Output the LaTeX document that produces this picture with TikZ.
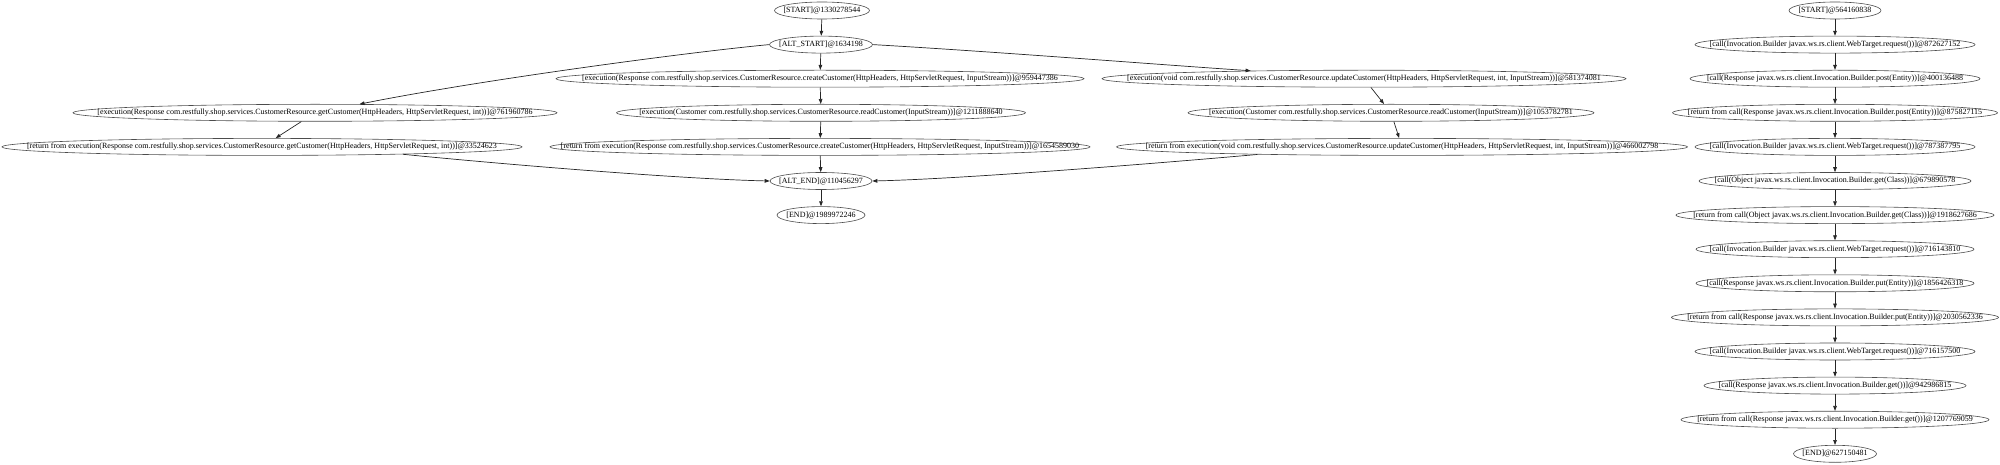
\documentclass[tikz,border=0pt]{standalone}
\usepackage{fontspec}
\setmainfont{Liberation Serif}
\usetikzlibrary{arrows.meta,shapes.geometric}
\tikzset{
  nd/.style={ellipse, draw=black!70, line width=0.6pt, inner xsep=-400pt, inner ysep=-20pt,
    minimum height=17pt, font=\fontsize{8}{9.6}\selectfont, text=black},
  edge/.style={draw=black!85, line width=0.7pt, -{Triangle[length=5pt,width=3.6pt]}}
}
\begin{document}
\begin{tikzpicture}[x=1pt,y=-1pt]
\useasboundingbox (0,0) rectangle (2000,465);
% left graph
\node[nd, minimum width=95] (s1) at (822,10.5) {[START]@1330278544};
\node[nd, minimum width=103] (alt) at (821,44.6) {[ALT\_START]@1634198};
\node[nd, minimum width=528] (cc) at (820,78.7) {[execution(Response com.restfully.shop.services.CustomerResource.createCustomer(HttpHeaders, HttpServletRequest, InputStream))]@959447386};
\node[nd, minimum width=524] (uc) at (1364,78.7) {[execution(void com.restfully.shop.services.CustomerResource.updateCustomer(HttpHeaders, HttpServletRequest, int, InputStream))]@581374081};
\node[nd, minimum width=484] (gc) at (315,112.8) {[execution(Response com.restfully.shop.services.CustomerResource.getCustomer(HttpHeaders, HttpServletRequest, int))]@761960786};
\node[nd, minimum width=409] (rc1) at (821,112.8) {[execution(Customer com.restfully.shop.services.CustomerResource.readCustomer(InputStream))]@1211888640};
\node[nd, minimum width=406] (rc2) at (1391,112.8) {[execution(Customer com.restfully.shop.services.CustomerResource.readCustomer(InputStream))]@1053782781};
\node[nd, minimum width=520] (rgc) at (262,146.9) {[return from execution(Response com.restfully.shop.services.CustomerResource.getCustomer(HttpHeaders, HttpServletRequest, int))]@33524623};
\node[nd, minimum width=540] (rcc) at (820,146.9) {[return from execution(Response com.restfully.shop.services.CustomerResource.createCustomer(HttpHeaders, HttpServletRequest, InputStream))]@1654589030};
\node[nd, minimum width=571] (ruc) at (1402,146.9) {[return from execution(void com.restfully.shop.services.CustomerResource.updateCustomer(HttpHeaders, HttpServletRequest, int, InputStream))]@466002798};
\node[nd, minimum width=102] (ae) at (821,181) {[ALT\_END]@110456297};
\node[nd, minimum width=88] (e1) at (821,215.1) {[END]@1989972246};
\path[edge] (s1) -- (alt);
\path[edge] (alt.west) .. controls (690,52) and (480,80) .. (gc.11);
\path[edge] (alt) -- (cc);
\path[edge] (alt.east) .. controls (1000,52) and (1150,64) .. (uc.176.2);
\path[edge] (gc) -- (rgc);
\path[edge] (cc) -- (rc1);
\path[edge] (rc1) -- (rcc);
\path[edge] (uc) -- (rc2);
\path[edge] (rc2) -- (ruc);
\path[edge] (rgc.-3.5) .. controls (500,164) and (680,179) .. (ae.west);
\path[edge] (rcc) -- (ae);
\path[edge] (ruc.183.3) .. controls (1150,164) and (960,179) .. (ae.east);
\path[edge] (ae) -- (e1);
% right graph
\node[nd, minimum width=92] (s2) at (1835,10.5) {[START]@564160838};
\node[nd, minimum width=280] (r1) at (1835,44.6) {[call(Invocation.Builder javax.ws.rs.client.WebTarget.request())]@872627152};
\node[nd, minimum width=290] (r2) at (1835,78.7) {[call(Response javax.ws.rs.client.Invocation.Builder.post(Entity))]@400136488};
\node[nd, minimum width=325] (r3) at (1835,112.8) {[return from call(Response javax.ws.rs.client.Invocation.Builder.post(Entity))]@875827115};
\node[nd, minimum width=280] (r4) at (1835,146.9) {[call(Invocation.Builder javax.ws.rs.client.WebTarget.request())]@787387795};
\node[nd, minimum width=272] (r5) at (1835,181) {[call(Object javax.ws.rs.client.Invocation.Builder.get(Class))]@679890578};
\node[nd, minimum width=318] (r6) at (1835,215.1) {[return from call(Object javax.ws.rs.client.Invocation.Builder.get(Class))]@1918627686};
\node[nd, minimum width=278] (r7) at (1835,249.2) {[call(Invocation.Builder javax.ws.rs.client.WebTarget.request())]@716143810};
\node[nd, minimum width=278] (r8) at (1835,283.3) {[call(Response javax.ws.rs.client.Invocation.Builder.put(Entity))]@1856426318};
\node[nd, minimum width=327] (r9) at (1835,317.4) {[return from call(Response javax.ws.rs.client.Invocation.Builder.put(Entity))]@2030562336};
\node[nd, minimum width=280] (r10) at (1835,351.5) {[call(Invocation.Builder javax.ws.rs.client.WebTarget.request())]@716157500};
\node[nd, minimum width=262] (r11) at (1835,385.6) {[call(Response javax.ws.rs.client.Invocation.Builder.get())]@942986815};
\node[nd, minimum width=308] (r12) at (1835,419.7) {[return from call(Response javax.ws.rs.client.Invocation.Builder.get())]@1207769059};
\node[nd, minimum width=83] (e2) at (1835,453.8) {[END]@627150481};
\path[edge] (s2) -- (r1);
\path[edge] (r1) -- (r2);
\path[edge] (r2) -- (r3);
\path[edge] (r3) -- (r4);
\path[edge] (r4) -- (r5);
\path[edge] (r5) -- (r6);
\path[edge] (r6) -- (r7);
\path[edge] (r7) -- (r8);
\path[edge] (r8) -- (r9);
\path[edge] (r9) -- (r10);
\path[edge] (r10) -- (r11);
\path[edge] (r11) -- (r12);
\path[edge] (r12) -- (e2);
\end{tikzpicture}
\end{document}
